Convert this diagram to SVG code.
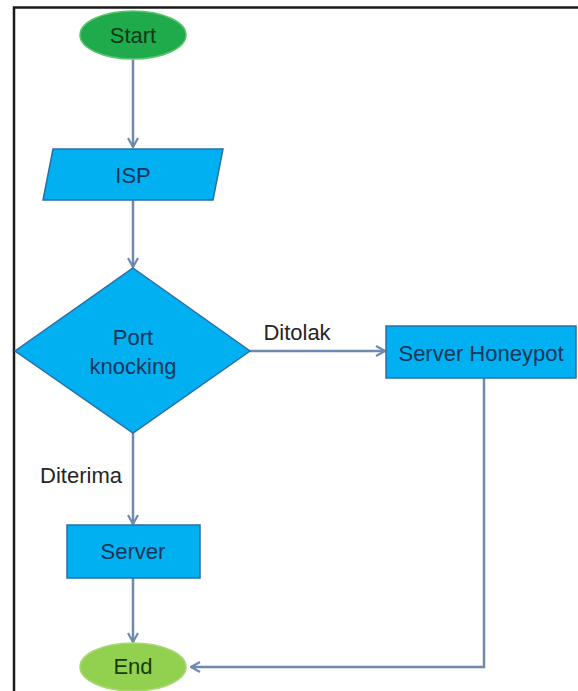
<svg xmlns="http://www.w3.org/2000/svg" width="578" height="691" viewBox="0 0 578 691">
<style>
text{font-family:"Liberation Sans",Arial,sans-serif;font-size:22px;text-anchor:middle}
.lbl{fill:#262626}
.nt{fill:#14365a}
.blue{fill:#00b0f0;stroke:#2a6fa8;stroke-width:1.5}
.conn{fill:none;stroke:#7189ad;stroke-width:2.5}
</style>
<defs>
<marker id="arr" viewBox="0 0 12 12" refX="11" refY="6" markerWidth="12" markerHeight="12" markerUnits="userSpaceOnUse" orient="auto">
<polyline points="2,1 11,6 2,11" fill="none" stroke="#7189ad" stroke-width="2.2"/>
</marker>
</defs>
<rect width="578" height="691" fill="#ffffff"/>
<g id="frame">
<path d="M14,691 V7.5 H578" fill="none" stroke="#1a1a1a" stroke-width="2.5"/>
</g>
<g id="connectors">
<line class="conn" x1="133" y1="60" x2="133" y2="147" marker-end="url(#arr)"/>
<line class="conn" x1="133" y1="200" x2="133" y2="267" marker-end="url(#arr)"/>
<line class="conn" x1="250" y1="351" x2="385" y2="351" marker-end="url(#arr)"/>
<line class="conn" x1="133" y1="433" x2="133" y2="524" marker-end="url(#arr)"/>
<line class="conn" x1="133" y1="578" x2="133" y2="642" marker-end="url(#arr)"/>
<polyline class="conn" points="484,378 484,667 191,667" marker-end="url(#arr)"/>
<text class="lbl" x="297" y="340">Ditolak</text>
<text class="lbl" x="81" y="483">Diterima</text>
</g>
<g id="start">
<ellipse cx="133" cy="35" rx="53" ry="24" fill="#1faa4b" stroke="#5cc46f" stroke-width="1.5"/>
<text x="133" y="43" fill="#0c3a18">Start</text>
</g>
<g id="isp">
<polygon class="blue" points="53,149 223,149 213,200 43,200"/>
<text class="nt" x="133" y="183">ISP</text>
</g>
<g id="port-knocking">
<polygon class="blue" points="133,268 250,351 133,433 15,351"/>
<text class="nt" x="133" y="345">Port</text>
<text class="nt" x="133" y="374">knocking</text>
</g>
<g id="server-honeypot">
<rect class="blue" x="386" y="326" width="190" height="52"/>
<text class="nt" x="481" y="361">Server Honeypot</text>
</g>
<g id="server">
<rect class="blue" x="67" y="525" width="133" height="53"/>
<text class="nt" x="133" y="559">Server</text>
</g>
<g id="end">
<ellipse cx="133" cy="667" rx="53" ry="24" fill="#92d050" stroke="#a8d878" stroke-width="1.5"/>
<text x="133" y="674" fill="#1a3a0a">End</text>
</g>
</svg>
